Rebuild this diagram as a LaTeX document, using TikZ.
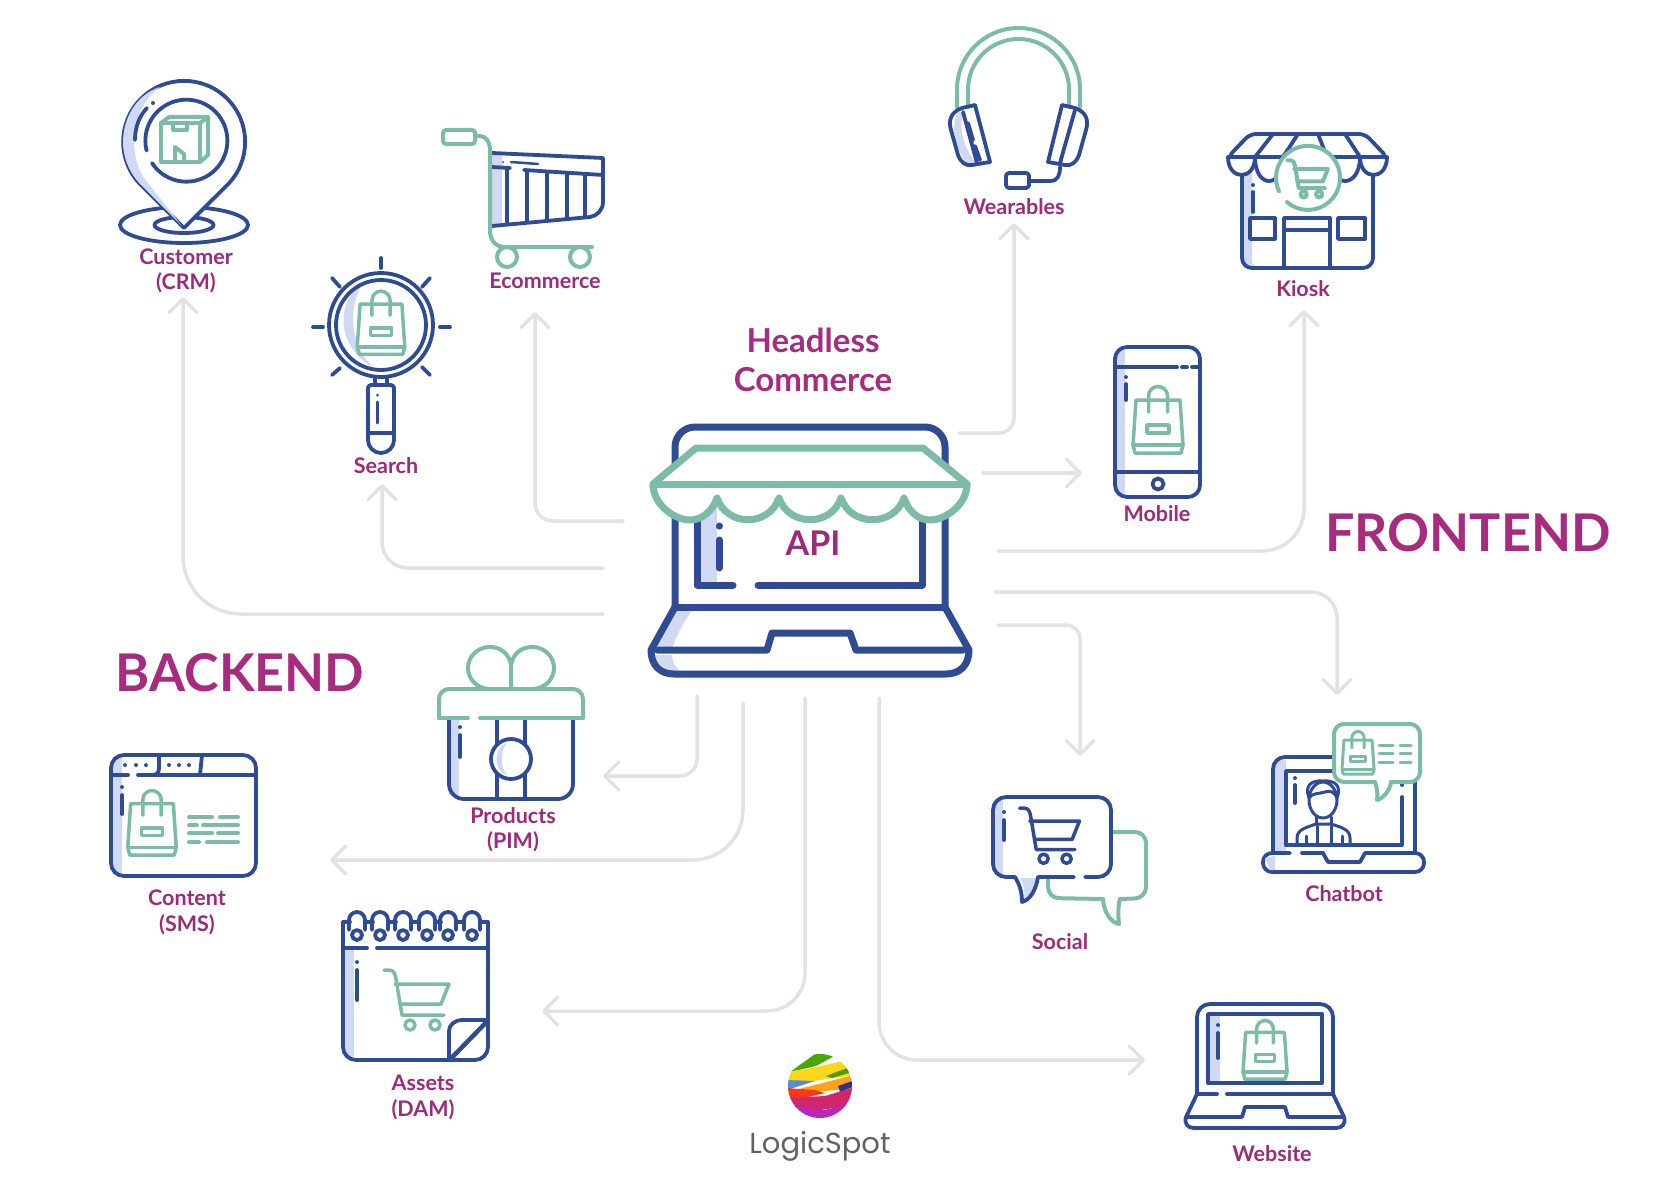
\documentclass[tikz,border=0pt]{standalone}
\usepackage{fontspec}
\setmainfont{Lato}
\newfontfamily\logofont{Poppins}
\usepackage{xcolor}
\usetikzlibrary{arrows.meta}
\definecolor{shopnavy}{HTML}{2F4B94}
\definecolor{shopmint}{HTML}{7DBBA9}
\definecolor{shoptint}{HTML}{CFDAF2}
\definecolor{labelplum}{HTML}{9C2B7A}
\definecolor{headplum}{HTML}{A62C80}
\definecolor{flowgrey}{HTML}{E2E2E2}
\tikzset{
    shopbag/.pic={
        \draw (-9.5,-8) -- (-9.5,-24) arc[start angle=180,end angle=360,radius=9.5] -- (9.5,-8);
        \draw (-22,-20) -- (22,-20) -- (25,25) -- (23,33) -- (-23,33) -- (-25,25) -- cycle;
        \draw (-25,25) -- (25,25);
        \draw (-11,5) rectangle (11,13);
    },
    minicart/.pic={
        \draw (-33,-27) -- (-28,-27) .. controls (-23,-27) and (-22,-23) .. (-21,-18) -- (-15,18) -- (27,18);
        \draw (-22,-13) -- (32,-13) -- (24,7) -- (-17,7);
        \draw (-7,28) circle[radius=5];
        \draw (18,28) circle[radius=5];
    }
}

\begin{document}
\begin{tikzpicture}[
    x=1pt, y=-1pt,
    navyicon/.style={color=shopnavy, line width=3.8pt, line cap=round, line join=round},
    minticon/.style={color=shopmint, line width=4pt, line cap=round, line join=round},
    tintfill/.style={fill=shoptint, draw=none},
    flow/.style={draw=flowgrey, line width=3.5pt, line cap=round, -{Straight Barb[length=14pt,width=28pt,round]}},
    lbl/.style={text=labelplum, font=\fontsize{21.5}{25.5}\selectfont\bfseries, align=center, inner sep=0pt},
    heading/.style={text=headplum, font=\fontsize{52}{52}\selectfont\bfseries, inner sep=0pt},
    logotext/.style={text=black!62, font=\fontsize{29}{29}\logofont, inner sep=0pt}
]
\useasboundingbox (0,0) rectangle (1664,1188);

% Texts
\node[heading] (backend) at (240,673) {BACKEND};
\node[heading] (frontend) at (1468,533) {FRONTEND};
\node[text=headplum, font=\fontsize{33}{39}\selectfont\bfseries, align=center, inner sep=0pt] (headless) at (813,360) {Headless\\Commerce};
\node[lbl] (crm) at (186,271) {Customer\\(CRM)};
\node[lbl] (ecommerce) at (545,281) {Ecommerce};
\node[lbl] (search) at (386,466) {Search};
\node[lbl] (wearables) at (1014,207) {Wearables};
\node[lbl] (kiosk) at (1303,289) {Kiosk};
\node[lbl] (mobile) at (1157,514) {Mobile};
\node[lbl] (pim) at (513,829.5) {Products\\(PIM)};
\node[lbl] (sms) at (187,912.5) {Content\\(SMS)};
\node[lbl] (dam) at (423,1097.5) {Assets\\(DAM)};
\node[lbl] (social) at (1060,942) {Social};
\node[lbl] (chatbot) at (1344,894) {Chatbot};
\node[lbl] (website) at (1272,1154) {Website};

% Connector ends
\foreach \name/\pos in {outCrm/{603,614}, inCrm/{183,297}, outSearch/{603,568}, inSearch/{382,484},
    outShop/{623,521}, inShop/{535,312}, outPim/{697,696}, inPim/{603,776},
    outSms/{743,703}, inSms/{330,860}, outDam/{805,698}, inDam/{542,1011},
    outWeb/{879,698}, inWeb/{1145,1060}, outSocial/{998,625}, inSocial/{1080,756},
    outBot/{995,592}, inBot/{1337,695}, outKiosk/{998,551}, inKiosk/{1304,310},
    outMobile/{983,473}, inMobile/{1082,473}, outWear/{959,433}, inWear/{1014,223}}
    \coordinate (\name) at (\pos);

% Connectors
\draw[flow, rounded corners=58pt] (outCrm) -| (inCrm);
\draw[flow, rounded corners=26pt] (outSearch) -| (inSearch);
\draw[flow, rounded corners=18pt] (outShop) -| (inShop);
\draw[flow, rounded corners=17pt] (outPim) |- (inPim);
\draw[flow, rounded corners=50pt] (outSms) |- (inSms);
\draw[flow, rounded corners=38pt] (outDam) |- (inDam);
\draw[flow, rounded corners=38pt] (outWeb) |- (inWeb);
\draw[flow, rounded corners=14pt] (outSocial) -| (inSocial);
\draw[flow, rounded corners=26pt] (outBot) -| (inBot);
\draw[flow, rounded corners=42pt] (outKiosk) -| (inKiosk);
\draw[flow] (outMobile) -- (inMobile);
\draw[flow, rounded corners=15pt] (outWear) -| (inWear);

% Central laptop
\fill[shoptint] (697,505) rectangle (717,585);
\fill[shoptint] (677,610) -- (692,610) .. controls (682,625) and (674,640) .. (672,650) -- (655,650) -- cycle;
\fill[shoptint] (655,655) -- (672,655) .. controls (672,662) and (676,668) .. (680,671) .. controls (666,671) and (657,665) .. (655,655);
\draw[navyicon, line width=7pt, rounded corners=20pt] (675,607) -- (675,427) -- (945,427) -- (945,607);
\draw[navyicon, line width=7pt] (675,607) -- (945,607);
\draw[navyicon, line width=7pt] (697,515) -- (697,585) -- (733,585);
\draw[navyicon, line width=7pt] (758,585) -- (922,585) -- (922,515);
\draw[navyicon, line width=7pt] (675,607) -- (651,650) .. controls (651,665) and (660,674) .. (674,674) -- (946,674) .. controls (960,674) and (969,665) .. (969,650) -- (945,607);
\draw[navyicon, line width=7pt] (657,650) -- (767,650) -- (772,633) -- (850,633) -- (856,650) -- (963,650);
\draw[navyicon, line width=7pt] (719,526) -- (719,526.1);
\draw[navyicon, line width=7pt] (719,540) -- (719,568);
\draw[minticon, line width=7pt, fill=white] (696,448) -- (923,448) -- (967,484)
    .. controls (967,505) and (945,520) .. (930,520) .. controls (917,520) and (908,510) .. (904,498)
    .. controls (894,527) and (851,527) .. (841,498)
    .. controls (831,527) and (789,527) .. (779,498)
    .. controls (769,527) and (727,527) .. (717,498)
    .. controls (713,510) and (703,520) .. (690,520) .. controls (675,520) and (653,505) .. (653,484) -- cycle;
\draw[minticon, line width=7pt] (653,484) -- (967,484);
\node[text=labelplum, font=\fontsize{34}{34}\selectfont\bfseries, inner sep=0pt] (api) at (813,543) {API};

% Customer pin
\draw[navyicon] (184,225) ellipse[x radius=64, y radius=18];
\draw[navyicon] (184,225) ellipse[x radius=29.5, y radius=8];
\draw[navyicon, fill=white] (184,228) -- (141,185) arc[start angle=135,end angle=405,radius=61] -- cycle;
\fill[shoptint] (160,87) .. controls (135,95) and (123,120) .. (123,142) .. controls (123,158) and (130,174) .. (141,185) -- (182,226) -- (147,182) .. controls (128,160) and (128,110) .. (160,87);
\draw[navyicon] (152,163) arc[start angle=147,end angle=-194,radius=41];
\draw[navyicon] (147,108) .. controls (139,116) and (135,128) .. (135,140);
\draw[navyicon] (153,103) -- (153,103.1);
\draw[minticon] (161,123) rectangle (200,162);
\draw[minticon] (161,123) -- (169,117) -- (208,117) -- (200,123);
\draw[minticon] (208,117) -- (208,155) -- (200,162);
\draw[minticon] (173,123) -- (173,130) -- (187,130) -- (187,123);
\draw[minticon] (175,161) -- (175,147) -- (184,154) -- (184,161);

% Ecommerce cart
\fill[shoptint] (491,154) rectangle (502,225);
\draw[navyicon] (492,153) -- (603,158) -- (603,202) .. controls (603,210) and (597,216) .. (590,217) -- (492,226);
\draw[navyicon] (492,167) -- (510,168);
\draw[navyicon] (524,170) -- (603,175);
\draw[navyicon] (507,169) -- (507,224);
\draw[navyicon] (527,171) -- (527,222);
\draw[navyicon] (547,172) -- (547,220);
\draw[navyicon] (567,174) -- (567,219);
\draw[navyicon] (585,175) -- (585,217);
\draw[navyicon, line width=2.5pt] (503,162) -- (503,162.1);
\draw[navyicon, line width=2.5pt] (511,162) -- (538,164);
\draw[minticon, rounded corners=3pt] (443,130) rectangle (475,144);
\draw[minticon] (475,136) -- (480,136) .. controls (486,136) and (490,142) .. (490,150) -- (490,230) .. controls (490,240) and (495,247) .. (505,247) -- (592,247);
\draw[minticon] (507,257) circle[radius=10];
\draw[minticon] (580,257) circle[radius=10];

% Search glass
\foreach \ax/\ay/\bx/\by in {381/258/381/268, 313/327/323/327, 440/327/450/327, 332/278/340/287, 430/278/422/287, 332/375/340/368, 430/375/422/367}
    \draw[navyicon] (\ax,\ay) -- (\bx,\by);
\fill[shoptint] (362,285) .. controls (340,295) and (330,345) .. (376,369) .. controls (352,352) and (346,310) .. (362,285);
\draw[navyicon] (381,325) circle[radius=52];
\draw[navyicon] (381,325) circle[radius=45];
\draw[navyicon] (375,378) -- (375,385);
\draw[navyicon] (387,378) -- (387,385);
\draw[navyicon, rounded corners=3pt] (368,440) -- (368,385) -- (394,385) -- (394,440);
\draw[navyicon] (368,440) arc[start angle=180,end angle=0,radius=13];
\draw[navyicon] (368,433) -- (394,433);
\draw[navyicon, line width=3pt] (377,395) -- (377,395.1);
\draw[navyicon, line width=3pt] (377,402) -- (377,423);
\pic[minticon, line width=3.5pt, scale=.95] at (381,323) {shopbag};

% Wearables headset
\draw[minticon] (957,107) -- (957,89.5) arc[start angle=180,end angle=360,radius=61.5] -- (1080,107);
\draw[minticon] (968,107) -- (968,89.5) arc[start angle=180,end angle=360,radius=50.5] -- (1069,107);
\fill[shoptint] (958,112) .. controls (950,125) and (955,150) .. (968,165) -- (976,163) .. controls (965,150) and (958,130) .. (963,113) -- cycle;
\draw[navyicon] (975,105) -- (962,108) .. controls (951,112) and (948,120) .. (951,130) -- (958,155) .. controls (961,163) and (966,166) .. (972,165) -- (990,162) -- cycle;
\draw[navyicon] (963,112) -- (977,163);
\draw[navyicon] (968,123) -- (973,140);
\draw[navyicon] (975,146) -- (980,160);
\draw[navyicon] (1062,105) -- (1075,108) .. controls (1086,112) and (1089,120) .. (1086,130) -- (1079,155) .. controls (1076,163) and (1071,166) .. (1065,165) -- (1048,162) -- cycle;
\draw[navyicon] (1075,110) -- (1060,163);
\draw[navyicon] (1060,167) .. controls (1060,175) and (1058,181) .. (1050,181) -- (1030,181);
\draw[navyicon, rounded corners=3pt] (1006,173) rectangle (1029,188);

% Kiosk
\fill[shoptint] (1243,165) -- (1252,165) -- (1252,262) .. controls (1254,266) and (1256,268) .. (1258,268) -- (1243,268) -- cycle;
\fill[shoptint] (1232,157) .. controls (1240,145) and (1250,137) .. (1258,136) .. controls (1252,143) and (1245,150) .. (1243,157) .. controls (1243,165) and (1245,170) .. (1250,174) .. controls (1240,172) and (1232,167) .. (1232,157);
\draw[navyicon, rounded corners=10pt] (1242,170) -- (1242,268) -- (1373,268) -- (1373,170);
\draw[navyicon, fill=white, rounded corners=6pt] (1228,157) -- (1250,134) -- (1365,134) -- (1387,157) -- cycle;
\draw[navyicon] (1255,157) -- (1273,134);
\draw[navyicon] (1283,157) -- (1298,134);
\draw[navyicon] (1327,157) -- (1318,134);
\draw[navyicon] (1360,157) -- (1345,134);
\foreach \ax/\bx/\my in {1228/1255/175, 1255/1283/183, 1330/1360/183, 1360/1387/175}
    \draw[navyicon, fill=white] (\ax,157) .. controls (\ax,\my+6) and (\bx,\my+6) .. (\bx,157) -- cycle;
\draw[minticon, fill=white, draw=none] (1308,178) circle[radius=32];
\draw[minticon] (1287,202) arc[start angle=131,end angle=-205,radius=32];
\pic[minticon, line width=4pt, scale=.62] at (1308,177) {minicart};
\draw[navyicon] (1250,218) rectangle (1275,239);
\draw[navyicon] (1338,218) rectangle (1365,239);
\draw[navyicon] (1284,268) -- (1284,218) -- (1330,218) -- (1330,268);
\draw[navyicon] (1284,230) -- (1330,230);
\draw[navyicon] (1253,185) -- (1253,185.1);
\draw[navyicon] (1253,192) -- (1253,212);

% Mobile
\fill[shoptint] (1117,350) rectangle (1125,495);
\draw[navyicon, rounded corners=12pt] (1115,347) rectangle (1200,497);
\draw[navyicon] (1115,367) -- (1177,367);
\draw[navyicon] (1182,367) -- (1187,367);
\draw[navyicon] (1192,367) -- (1199,367);
\draw[navyicon] (1115,472) -- (1200,472);
\draw[navyicon] (1158,484) circle[radius=5.5];
\draw[navyicon] (1126,377) -- (1126,377.1);
\draw[navyicon] (1126,384) -- (1126,400);
\pic[minticon, line width=3.5pt] at (1158,420) {shopbag};

% Products gift
\draw[minticon] (511,689) -- (511,665) .. controls (509,653) and (500,647) .. (490,647) .. controls (477,647) and (468,657) .. (468,668) .. controls (468,679) and (477,689) .. (490,689);
\draw[minticon] (511,665) .. controls (513,653) and (522,647) .. (532,647) .. controls (545,647) and (554,657) .. (554,668) .. controls (554,679) and (545,689) .. (532,689);
\fill[shoptint] (449,718) rectangle (459,795);
\draw[navyicon, rounded corners=15pt] (449,718) -- (449,799) -- (573,799) -- (573,718);
\draw[navyicon] (497,718) -- (497,799);
\draw[navyicon] (525,718) -- (525,799);
\draw[navyicon, fill=white] (511,759) circle[radius=20];
\fill[shoptint] (507,743) .. controls (493,747) and (493,772) .. (507,775) .. controls (500,768) and (500,750) .. (507,743);
\draw[minticon, fill=white, draw=none] (439,689) rectangle (583,718);
\draw[minticon, rounded corners=10pt] (439,718) -- (439,689) -- (583,689) -- (583,718);
\draw[minticon] (439,718) -- (468,718);
\draw[minticon] (480,718) -- (583,718);
\draw[navyicon] (460,727) -- (460,727.1);
\draw[navyicon] (460,735) -- (460,757);

% Content window
\fill[shoptint] (113,758) rectangle (122,874);
\draw[navyicon, rounded corners=13pt] (111,755) rectangle (256,876);
\draw[navyicon] (111,775) -- (128,775);
\draw[navyicon] (138,775) -- (256,775);
\draw[navyicon] (159,755) -- (159,768) .. controls (159,772) and (157,775) .. (153,775);
\draw[navyicon] (202,755) -- (200,775);
\foreach \x in {125,136,146,169,179,189}
    \draw[navyicon] (\x,765) -- (\x,765.1);
\draw[navyicon] (122,787) -- (122,787.1);
\draw[navyicon] (122,795) -- (122,814);
\pic[minticon, line width=3.5pt, scale=.97] at (152,823) {shopbag};
\foreach \y/\ax/\ay/\bx/\by in {817/189/212/220/238, 825/189/197/203/238, 833/189/212/218/238, 842/189/199/207/238} {
    \draw[minticon] (\ax,\y) -- (\ay,\y);
    \draw[minticon] (\bx,\y) -- (\by,\y);
}

% Assets calendar
\fill[shoptint] (345,950) rectangle (354,1057);
\draw[navyicon, rounded corners=13pt] (343,922) -- (343,1060) -- (488,1060) -- (488,922);
\draw[navyicon] (343,922) -- (350,922);
\draw[navyicon] (365,922) -- (373,922);
\draw[navyicon] (388,922) -- (396,922);
\draw[navyicon] (411,922) -- (419,922);
\draw[navyicon] (435,922) -- (441,922);
\draw[navyicon] (456,922) -- (464,922);
\draw[navyicon] (480,922) -- (488,922);
\draw[navyicon] (343,948) -- (367,948);
\draw[navyicon] (377,948) -- (488,948);
\foreach \x in {357,380,403,427,448,472} {
    \draw[navyicon] (\x,935) circle[radius=5];
    \draw[navyicon] (\x-8,930) -- (\x-8,920) arc[start angle=180,end angle=360,radius=8] -- (\x+8,930);
}
\draw[navyicon] (357,962) -- (357,962.1);
\draw[navyicon] (357,970) -- (357,1000);
\pic[minticon, line width=3.5pt] at (417,997) {minicart};
\draw[navyicon, fill=white] (449,1060) -- (449,1032) .. controls (449,1024) and (455,1020) .. (463,1020) -- (488,1020) -- cycle;
\draw[navyicon] (451,1059) -- (487,1022);

% Social bubbles
\draw[minticon, rounded corners=11pt] (1112,832) -- (1146,832) -- (1146,898) -- (1120,899);
\draw[minticon] (1120,899) .. controls (1118,905) and (1118,915) .. (1119,924) .. controls (1110,922) and (1104,912) .. (1103,899);
\draw[minticon, rounded corners=11pt] (1103,899) -- (1048,898) -- (1048,880);
\fill[shoptint] (995,800) rectangle (1003,875);
\fill[shoptint] (1020,878) -- (1038,878) .. controls (1036,890) and (1030,898) .. (1024,900) .. controls (1025,892) and (1024,884) .. (1020,878);
\draw[navyicon, rounded corners=13pt] (1085,877) -- (1111,877) -- (1111,797) -- (993,797) -- (993,877) -- (1015,877);
\draw[navyicon] (1015,877) .. controls (1020,885) and (1022,893) .. (1022,902) .. controls (1030,900) and (1036,890) .. (1038,877) -- (1074,877);
\draw[navyicon] (1004,812) -- (1004,812.1);
\draw[navyicon] (1004,820) -- (1004,840);
\pic[navyicon, line width=3.5pt, scale=.92] at (1050,833) {minicart};

% Chatbot laptop
\fill[shoptint] (1275,760) rectangle (1286,851);
\draw[navyicon, rounded corners=12pt] (1273,853) -- (1273,757) -- (1415,757) -- (1415,853);
\draw[navyicon] (1286,845) -- (1286,771) -- (1402,771) -- (1402,785);
\draw[navyicon] (1402,797) -- (1402,845) -- (1286,845);
\draw[navyicon, rounded corners=9pt] (1290,853) -- (1263,853) -- (1263,872) -- (1424,872) -- (1424,853) -- (1365,853);
\draw[navyicon] (1302,853) -- (1323,853);
\draw[navyicon] (1323,853) -- (1328,862) -- (1360,862) -- (1365,853);
\fill[shoptint] (1265,858) -- (1275,856) -- (1275,870) -- (1270,870) -- cycle;
\draw[navyicon] (1295,778) -- (1295,778.1);
\draw[navyicon] (1295,785) -- (1295,803);
% Person
\draw[navyicon, line width=3pt] (1323,800) ellipse[x radius=14, y radius=18];
\draw[navyicon, line width=3pt] (1309,798) .. controls (1304,785) and (1312,780) .. (1323,781) .. controls (1334,780) and (1342,785) .. (1337,798) .. controls (1335,792) and (1330,790) .. (1325,792) .. controls (1318,794) and (1312,793) .. (1309,798);
\draw[navyicon, line width=3pt] (1316,817) -- (1316,824);
\draw[navyicon, line width=3pt] (1331,817) -- (1331,824);
\draw[navyicon, line width=3pt] (1297,844) -- (1297,838) .. controls (1297,829) and (1308,827) .. (1316,824) -- (1331,824) .. controls (1340,827) and (1350,829) .. (1350,838) -- (1350,844);
\draw[navyicon, line width=3pt] (1317,826) -- (1317,844);
\draw[navyicon, line width=3pt] (1331,826) -- (1331,844);
\draw[navyicon, line width=3pt] (1306,836) -- (1306,844);
\draw[navyicon, line width=3pt] (1342,836) -- (1342,844);
% Speech bubble
\draw[minticon, fill=white, rounded corners=10pt] (1375,782) -- (1334,782) -- (1334,724) -- (1420,724) -- (1420,782) -- (1391,782);
\draw[minticon] (1375,782) .. controls (1377,788) and (1378,794) .. (1377,800) .. controls (1384,798) and (1390,790) .. (1391,782);
\pic[minticon, line width=3pt, scale=.64] at (1358,753) {shopbag};
\foreach \y in {745,753,762} {
    \draw[minticon, line width=3pt] (1379,\y) -- (1393,\y);
    \draw[minticon, line width=3pt] (1400,\y) -- (1411,\y);
}

% Website laptop
\fill[shoptint] (1209,1016) rectangle (1220,1082);
\draw[navyicon, rounded corners=13pt] (1197,1094) -- (1197,1004) -- (1333,1004) -- (1333,1094);
\draw[navyicon] (1208,1014) rectangle (1322,1083);
\draw[navyicon] (1197,1094) -- (1217,1094);
\draw[navyicon] (1227,1094) -- (1333,1094);
\draw[navyicon] (1197,1094) -- (1186,1117) .. controls (1184,1124) and (1188,1128) .. (1194,1128) -- (1336,1128) .. controls (1342,1128) and (1346,1124) .. (1344,1117) -- (1333,1094);
\draw[navyicon] (1186,1117) -- (1242,1117) -- (1245,1107) -- (1285,1107) -- (1288,1117) -- (1344,1117);
\draw[navyicon] (1218,1025) -- (1218,1025.1);
\draw[navyicon] (1218,1033) -- (1218,1058);
\pic[minticon, line width=3.5pt, scale=.88] at (1265,1050) {shopbag};

% Logo
\begin{scope}
\clip (820,1086) circle[radius=32];
\fill[white] (788,1054) rectangle (852,1118);
\fill[green!50!black!70!yellow] (790,1072) -- (815,1054) -- (838,1054) -- (816,1066) -- cycle;
\fill[yellow!70!orange!90!white] (786,1072) -- (812,1068) -- (848,1060) -- (855,1075) -- (800,1083) -- (786,1082) -- cycle;
\fill[green!45!black!70!yellow] (826,1076) -- (850,1067) -- (852,1072) -- (832,1078) -- cycle;
\fill[cyan!50!blue!70!white] (785,1080) -- (815,1081) -- (790,1089) -- (785,1088) -- cycle;
\fill[orange!80!yellow!90!white] (795,1090) -- (850,1076) -- (855,1088) -- (815,1092) -- (800,1096) -- cycle;
\fill[blue!40!black!80!white] (838,1086) -- (855,1080) -- (855,1086) -- (840,1092) -- cycle;
\fill[red!75!orange!90!white] (785,1088) -- (815,1090) -- (825,1093) -- (795,1100) -- (785,1100) -- cycle;
\fill[magenta!70!red!85!black] (785,1098) -- (825,1096) -- (855,1087) -- (855,1105) -- (820,1110) -- (795,1108) -- cycle;
\fill[violet!65!magenta!85!white] (793,1106) -- (825,1110) -- (848,1104) -- (835,1120) -- (800,1120) -- cycle;
\end{scope}
\node[logotext] (logicspot) at (820,1146) {LogicSpot};
\end{tikzpicture}
\end{document}
